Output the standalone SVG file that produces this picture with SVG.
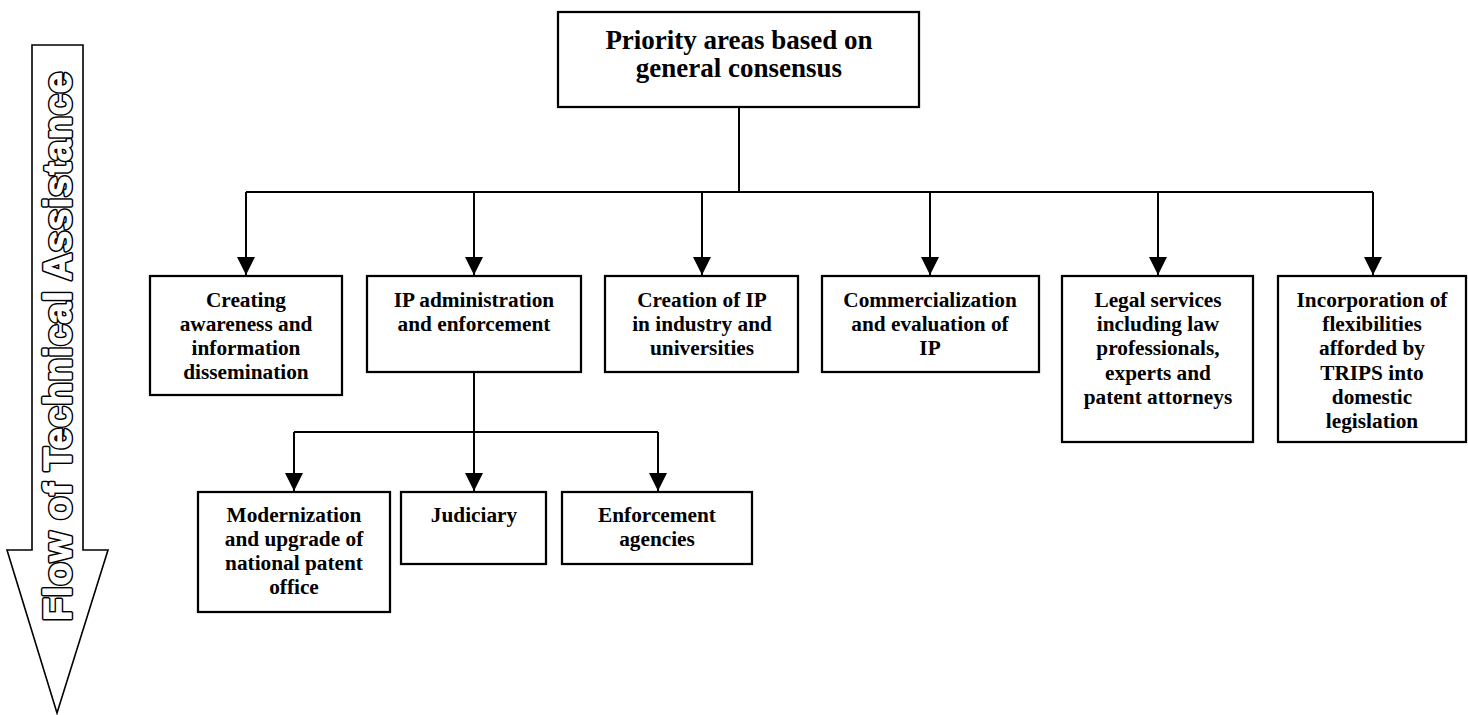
<svg xmlns="http://www.w3.org/2000/svg" width="1468" height="715" viewBox="0 0 1468 715">
<style>
.box{fill:#fff;stroke:#000;stroke-width:2.25}
.t{font-family:"Liberation Serif","Times New Roman",serif;font-weight:bold;font-size:21.3px;fill:#000;text-anchor:middle}
.big{font-size:27px}
.ln{fill:none;stroke:#000;stroke-width:2}
.flow{font-family:"Liberation Sans",Arial,sans-serif;font-weight:bold;font-size:38px;stroke-linejoin:round}
.flow-out{fill:#000;stroke:#000;stroke-width:4.2}
.flow-in{fill:#fff;stroke:#fff;stroke-width:1.2}
</style>
<defs>
<marker id="ah" markerUnits="userSpaceOnUse" markerWidth="18" markerHeight="18" refX="16" refY="8" orient="auto" viewBox="0 0 16 16">
<path d="M0,0 L16,8 L0,16 Z" fill="#000"/>
</marker>
</defs>

<g id="flow-arrow">
<path d="M32,45 L83,45 L83,550 L108,550 L57,713 L7,550 L32,550 Z" fill="#fff" stroke="#000" stroke-width="1.6"/>
<text class="flow flow-out" transform="translate(71,621) rotate(-90)" textLength="549" lengthAdjust="spacing">Flow of Technical Assistance</text>
<text class="flow flow-in" transform="translate(71,621) rotate(-90)" textLength="549" lengthAdjust="spacing">Flow of Technical Assistance</text>
</g>

<g id="connectors">
<path class="ln" d="M739,107 V192 M246,192 H1373"/>
<path class="ln" d="M246,192 V275" marker-end="url(#ah)"/>
<path class="ln" d="M474,192 V275" marker-end="url(#ah)"/>
<path class="ln" d="M702,192 V275" marker-end="url(#ah)"/>
<path class="ln" d="M930,192 V275" marker-end="url(#ah)"/>
<path class="ln" d="M1158,192 V275" marker-end="url(#ah)"/>
<path class="ln" d="M1373,192 V275" marker-end="url(#ah)"/>
<path class="ln" d="M474,372 V432 M294,432 H658"/>
<path class="ln" d="M294,432 V491" marker-end="url(#ah)"/>
<path class="ln" d="M474,432 V491" marker-end="url(#ah)"/>
<path class="ln" d="M658,432 V491" marker-end="url(#ah)"/>
</g>

<g id="priority">
<rect class="box" x="558" y="12" width="361" height="95"/>
<text class="t big" x="739" y="49">Priority areas based on</text>
<text class="t big" x="739" y="77">general consensus</text>
</g>

<g id="awareness">
<rect class="box" x="150" y="276" width="192" height="119"/>
<text class="t" x="246" y="307">Creating</text>
<text class="t" x="246" y="331">awareness and</text>
<text class="t" x="246" y="355">information</text>
<text class="t" x="246" y="379">dissemination</text>
</g>

<g id="ip-admin">
<rect class="box" x="367" y="276" width="214" height="96"/>
<text class="t" x="474" y="307">IP administration</text>
<text class="t" x="474" y="331">and enforcement</text>
</g>

<g id="creation">
<rect class="box" x="605" y="276" width="193" height="96"/>
<text class="t" x="702" y="307">Creation of IP</text>
<text class="t" x="702" y="331">in industry and</text>
<text class="t" x="702" y="355">universities</text>
</g>

<g id="commercialization">
<rect class="box" x="822" y="276" width="217" height="96"/>
<text class="t" x="930" y="307">Commercialization</text>
<text class="t" x="930" y="331">and evaluation of</text>
<text class="t" x="930" y="355">IP</text>
</g>

<g id="legal">
<rect class="box" x="1062" y="276" width="191" height="166"/>
<text class="t" x="1158" y="307">Legal services</text>
<text class="t" x="1158" y="331">including law</text>
<text class="t" x="1158" y="355">professionals,</text>
<text class="t" x="1158" y="380">experts and</text>
<text class="t" x="1158" y="404">patent attorneys</text>
</g>

<g id="trips">
<rect class="box" x="1278" y="276" width="188" height="166"/>
<text class="t" x="1372" y="307">Incorporation of</text>
<text class="t" x="1372" y="331">flexibilities</text>
<text class="t" x="1372" y="355">afforded by</text>
<text class="t" x="1372" y="380">TRIPS into</text>
<text class="t" x="1372" y="404">domestic</text>
<text class="t" x="1372" y="428">legislation</text>
</g>

<g id="modernization">
<rect class="box" x="198" y="492" width="192" height="120"/>
<text class="t" x="294" y="522">Modernization</text>
<text class="t" x="294" y="546">and upgrade of</text>
<text class="t" x="294" y="570">national patent</text>
<text class="t" x="294" y="594">office</text>
</g>

<g id="judiciary">
<rect class="box" x="401" y="492" width="145" height="72"/>
<text class="t" x="474" y="522">Judiciary</text>
</g>

<g id="enforcement">
<rect class="box" x="562" y="492" width="190" height="72"/>
<text class="t" x="657" y="522">Enforcement</text>
<text class="t" x="657" y="546">agencies</text>
</g>
</svg>
